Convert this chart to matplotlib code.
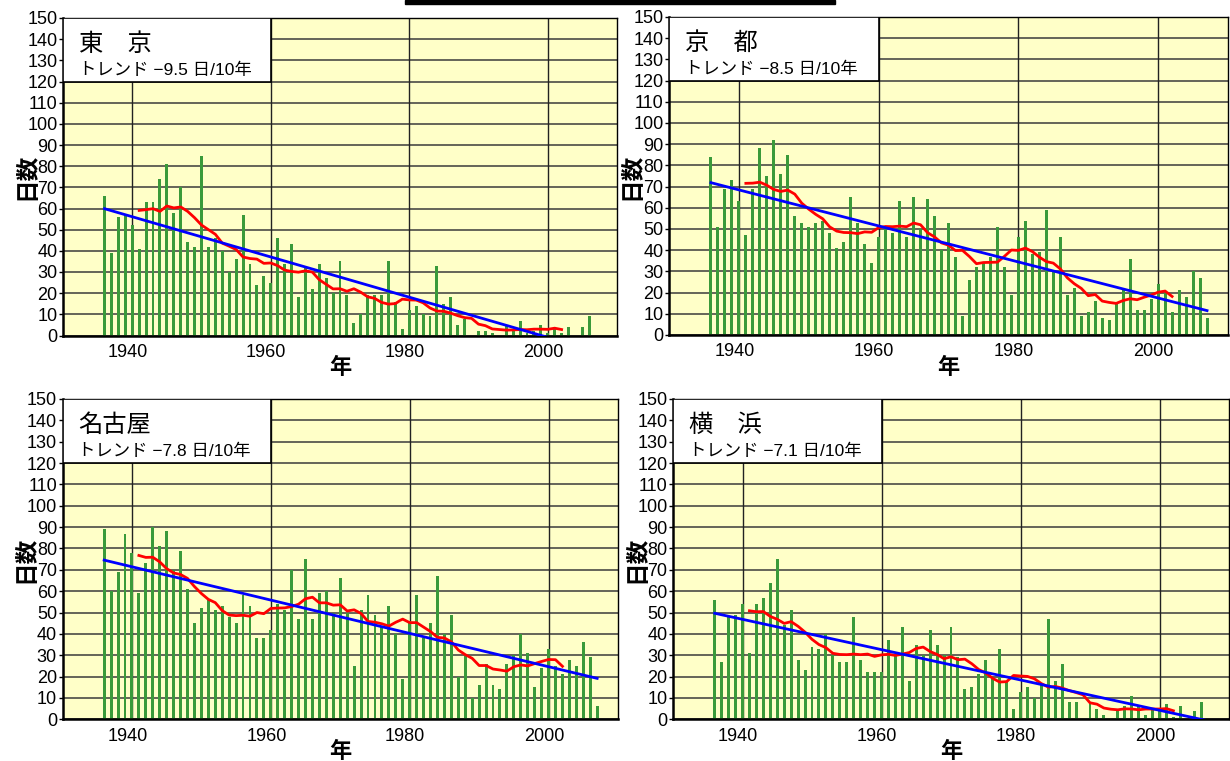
import numpy as np
import matplotlib
matplotlib.use('Agg')
import matplotlib.pyplot as plt
from matplotlib.patches import Rectangle
from matplotlib.transforms import ScaledTranslation

plt.rcParams['font.family'] = ['Liberation Sans', 'Noto Sans CJK JP']

years = np.arange(1936, 2008)

tokyo = [66, 39, 56, 57, 52, 41, 63, 63, 74, 81,
         58, 70, 44, 42, 85, 42, 46, 40, 30, 36,
         57, 34, 24, 28, 25, 46, 34, 43, 18, 32,
         22, 34, 27, 20, 35, 19, 6, 10, 19, 19,
         19, 35, 16, 3, 12, 14, 10, 9, 33, 15,
         18, 5, 8, 0, 2, 2, 1, 0, 5, 3,
         7, 1, 2, 5, 1, 4, 1, 4, 0, 4,
         9, 0]
kyoto = [84, 51, 69, 73, 63, 47, 69, 88, 75, 92,
         76, 85, 56, 53, 51, 53, 54, 48, 41, 44,
         65, 53, 43, 34, 46, 50, 48, 63, 46, 65,
         50, 64, 56, 40, 53, 37, 9, 26, 32, 34,
         37, 51, 32, 19, 46, 54, 38, 39, 59, 30,
         46, 19, 22, 9, 11, 16, 8, 7, 15, 21,
         36, 12, 12, 17, 24, 20, 11, 21, 18, 30,
         27, 8]
nagoya = [89, 60, 69, 87, 78, 59, 73, 90, 81, 88,
          70, 79, 61, 45, 52, 56, 51, 53, 48, 45,
          58, 53, 38, 38, 42, 54, 51, 70, 47, 75,
          47, 59, 60, 50, 66, 50, 25, 51, 58, 49,
          43, 53, 40, 19, 46, 58, 38, 45, 67, 40,
          49, 20, 30, 10, 16, 26, 16, 14, 26, 30,
          40, 31, 15, 24, 33, 25, 21, 28, 25, 36,
          29, 6]
yokohama = [56, 27, 48, 49, 54, 31, 54, 57, 64, 75,
            44, 51, 28, 23, 34, 33, 40, 30, 27, 27,
            48, 28, 22, 22, 22, 37, 30, 43, 18, 35,
            30, 42, 35, 30, 43, 29, 14, 15, 21, 28,
            20, 33, 18, 5, 13, 15, 10, 16, 47, 18,
            26, 8, 8, 0, 8, 5, 2, 0, 4, 6,
            11, 6, 2, 5, 5, 7, 1, 6, 0, 4,
            8, 0]

names = ['東\u3000京', '京\u3000都', '名古屋', '横\u3000浜']
trends = [-9.5, -8.5, -7.8, -7.1]  # days per 10 years
series = [tokyo, kyoto, nagoya, yokohama]

W, H = 1230, 761
# axes boxes in pixels: left, right, top, bottom
boxes = [(63, 617, 18, 335.5),
         (669, 1228, 17, 335),
         (62.5, 618, 399, 719.3),
         (673, 1229, 399, 719.3)]

fig = plt.figure(figsize=(W / 100, H / 100), dpi=100)
fig.patches.append(Rectangle((405 / W, 1 - 4 / H), 430 / W, 4 / H,
                             transform=fig.transFigure, color='black'))
shift = ScaledTranslation(-0.045, 0, fig.dpi_scale_trans)

for name, trend, vals, (l, r, t, b) in zip(names, trends, series, boxes):
    ax = fig.add_axes([l / W, 1 - b / H, (r - l) / W, (b - t) / H])
    vals = np.array(vals, dtype=float)
    ax.set_facecolor('#ffffc8')
    ax.set_axisbelow(True)
    ax.grid(axis='y', color='#3a3a3a', lw=1.1)
    for yr in (1940, 1960, 1980, 2000):
        ax.axvline(yr, color='#222222', lw=1.0, zorder=0.6)

    ax.bar(years, vals, width=0.42, color='#3a9a3a', zorder=2)

    # 11-year running mean
    k = 11
    ma = np.convolve(vals, np.ones(k) / k, mode='valid')
    ax.plot(years[k // 2:-(k // 2)], ma, color='#ff0000', lw=2, zorder=3)

    # linear trend with the stated slope
    s = trend / 10
    c = vals.mean() - s * years.mean()
    ax.plot(years, c + s * years, color='#0000ff', lw=2, zorder=3)

    ax.add_patch(Rectangle((1930, 120), 30, 30, facecolor='white',
                           edgecolor='black', lw=1.2, zorder=5))
    ax.text(1932.3, 137.5, name, fontsize=17.5, va='center', ha='left', zorder=6)
    ax.text(1932.3, 125.3, 'トレンド \u2212%.1f 日/10年' % abs(trend),
            fontsize=12.5, va='center', ha='left', zorder=6)

    ax.set_xlim(1930, 2010)
    ax.set_ylim(0, 150)
    ax.set_yticks(np.arange(0, 151, 10))
    ax.set_xticks([1940, 1960, 1980, 2000])
    ax.tick_params(axis='y', labelsize=13, length=3, width=1, pad=1)
    ax.tick_params(axis='x', labelsize=13, length=0, pad=6)
    for lab in ax.get_xticklabels():
        lab.set_transform(lab.get_transform() + shift)
    ax.set_ylabel('日数', fontsize=17, fontweight='bold')
    ax.yaxis.set_label_coords(-0.045, 0.5)
    ax.set_xlabel('年', fontsize=16, fontweight='bold', labelpad=-2)
    for side in ('left', 'bottom'):
        ax.spines[side].set_linewidth(1.8)
    for side in ('top', 'right'):
        ax.spines[side].set_linewidth(1.0)

fig.savefig('out.png', dpi=100)
